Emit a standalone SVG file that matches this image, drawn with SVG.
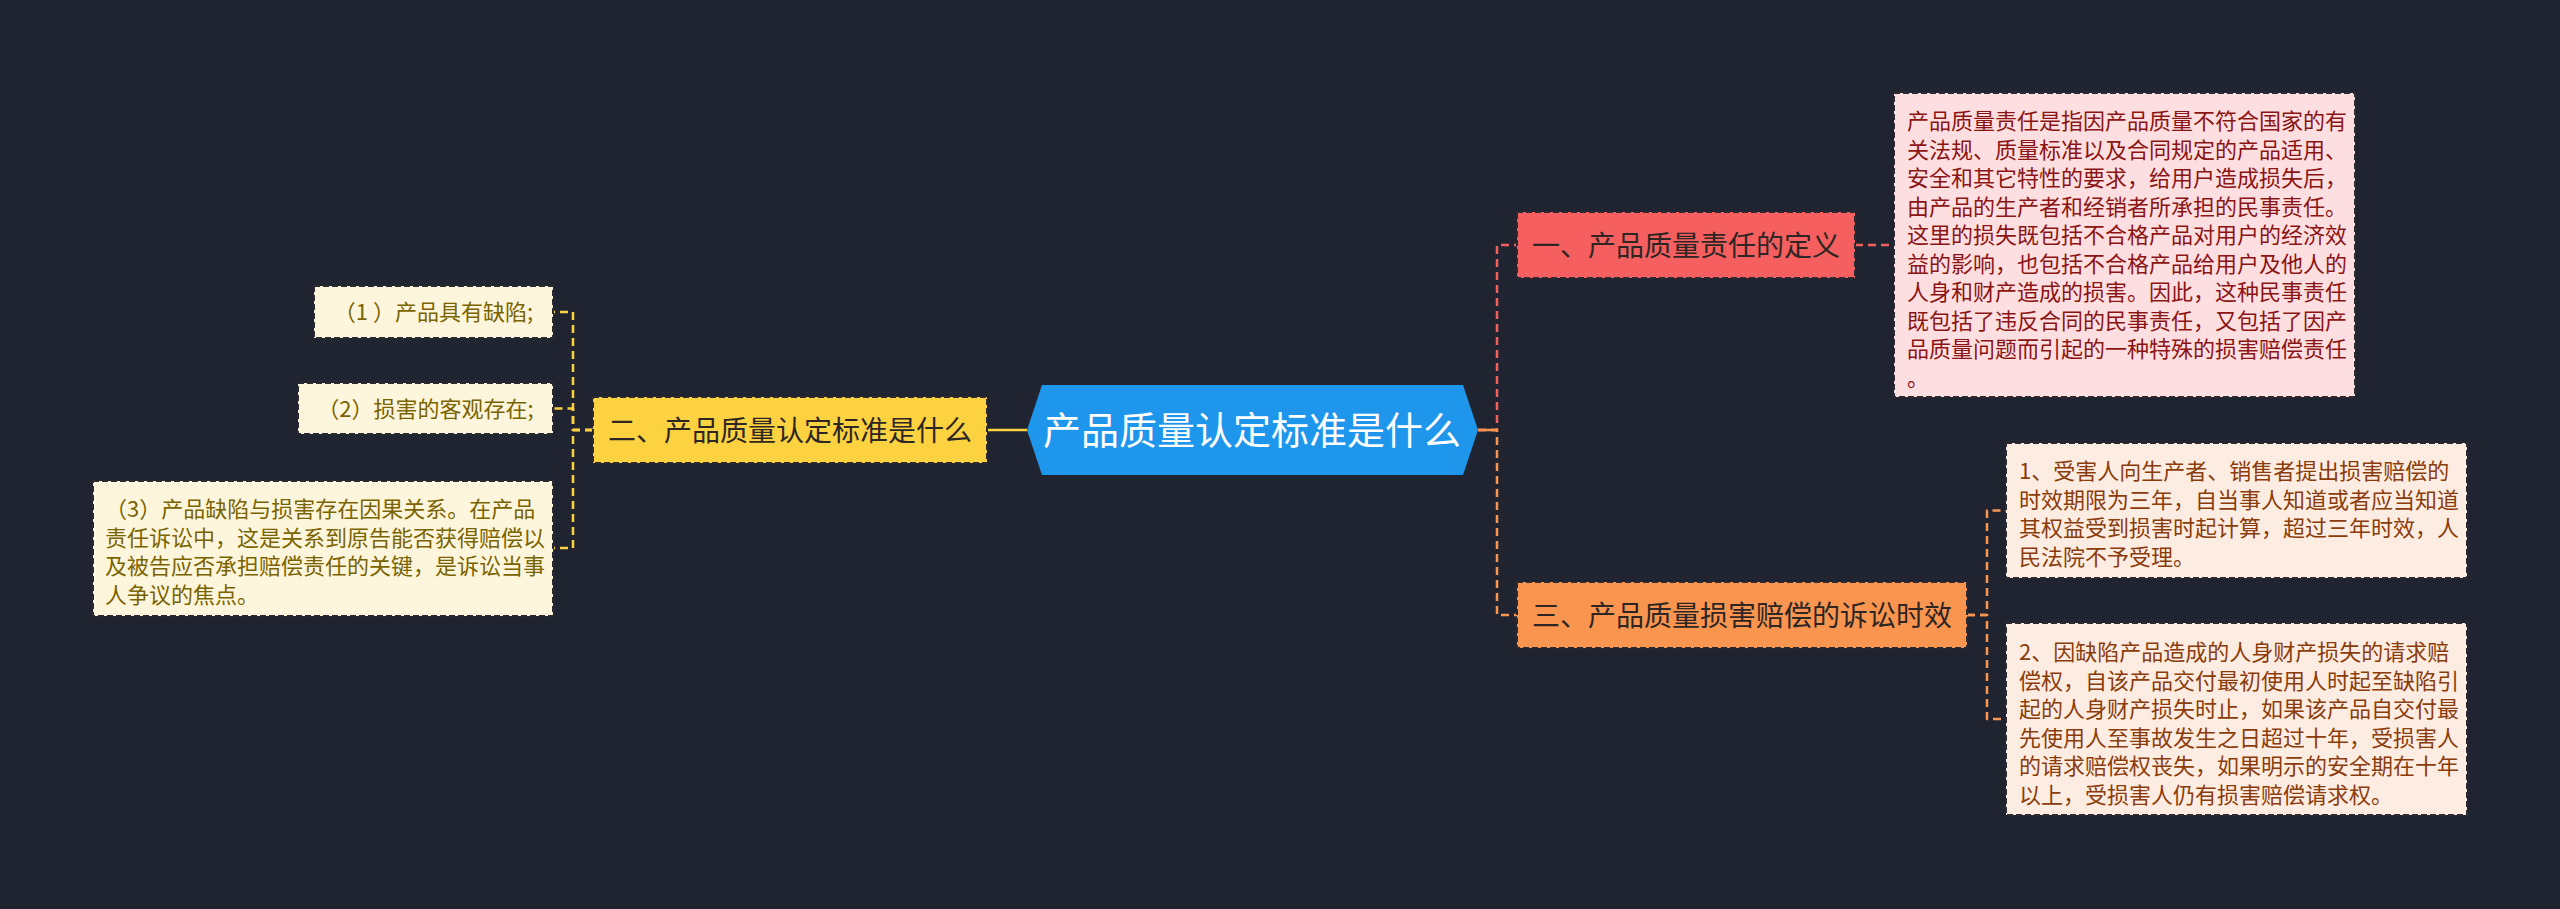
<svg xmlns="http://www.w3.org/2000/svg" width="2560" height="909" viewBox="0 0 2560 909">
<style>
text{font-family:"Noto Sans CJK SC","Noto Sans",sans-serif;}
.box{stroke:#2a2a30;stroke-width:2;stroke-dasharray:6 3;}
.conn{fill:none;stroke-width:2.5;stroke-dasharray:8 5;stroke-linejoin:round;}
.red{stroke:#f25f5c;}
.yel{stroke:#fdd240;}
.org{stroke:#fa9550;}
.branch{font-size:28px;fill:#2d2624;text-anchor:middle;}
.leaf{font-size:22px;}
.rt{fill:#8b1414;}
.yt{fill:#7a6400;}
.ot{fill:#8a3c0c;}
</style>
<rect x="0" y="0" width="2560" height="909" fill="#202430"/>
<g id="connectors">
<line x1="987" y1="430" x2="1027" y2="430" stroke="#fdd240" stroke-width="2.5"/>
<path class="conn yel" d="M593,430 H573 V312 H553"/>
<path class="conn yel" d="M593,430 H573 V408.5 H553"/>
<path class="conn yel" d="M593,430 H573 V548 H553"/>
<path class="conn red" d="M1478,430 H1497 V245 H1517"/>
<path class="conn org" d="M1478,430 H1497 V615 H1517"/>
<line x1="1478" y1="430" x2="1497" y2="430" stroke="#fa9550" stroke-width="2.5"/>
<path class="conn red" d="M1855,245 H1894"/>
<path class="conn org" d="M1967,615 H1987 V510.5 H2006"/>
<path class="conn org" d="M1967,615 H1987 V719 H2006"/>
</g>
<g id="root">
<polygon points="1027,430 1042,385 1463,385 1478,430 1463,475 1042,475" fill="#1e96eb"/>
<text x="1252" y="444" font-size="38" fill="#ffffff" text-anchor="middle">产品质量认定标准是什么</text>
</g>
<g id="branch1">
<rect class="box" x="1517" y="212" width="338" height="66" fill="#f55f5f"/>
<text class="branch" x="1686" y="255.5">一、产品质量责任的定义</text>
</g>
<g id="branch1-detail">
<rect class="box" x="1894" y="93" width="461" height="304" fill="#fddfe1"/>
<text class="leaf rt">
<tspan x="1907" y="129">产品质量责任是指因产品质量不符合国家的有</tspan>
<tspan x="1907" y="157.5">关法规、质量标准以及合同规定的产品适用、</tspan>
<tspan x="1907" y="186">安全和其它特性的要求，给用户造成损失后，</tspan>
<tspan x="1907" y="214.5">由产品的生产者和经销者所承担的民事责任。</tspan>
<tspan x="1907" y="243">这里的损失既包括不合格产品对用户的经济效</tspan>
<tspan x="1907" y="271.5">益的影响，也包括不合格产品给用户及他人的</tspan>
<tspan x="1907" y="300">人身和财产造成的损害。因此，这种民事责任</tspan>
<tspan x="1907" y="328.5">既包括了违反合同的民事责任，又包括了因产</tspan>
<tspan x="1907" y="357">品质量问题而引起的一种特殊的损害赔偿责任</tspan>
<tspan x="1907" y="385.5">。</tspan>
</text>
</g>
<g id="branch2">
<rect class="box" x="593" y="397" width="394" height="66" fill="#fdd240"/>
<text class="branch" x="790" y="440.5">二、产品质量认定标准是什么</text>
</g>
<g id="leaf2-1">
<rect class="box" x="314" y="286" width="239" height="52" fill="#fef6dc"/>
<text class="leaf yt" x="433.5" y="320" text-anchor="middle">（1 ）产品具有缺陷;</text>
</g>
<g id="leaf2-2">
<rect class="box" x="298" y="383" width="255" height="51" fill="#fef6dc"/>
<text class="leaf yt" x="425.5" y="417" text-anchor="middle">（2）损害的客观存在;</text>
</g>
<g id="leaf2-3">
<rect class="box" x="93" y="481" width="460" height="135" fill="#fef6dc"/>
<text class="leaf yt">
<tspan x="105" y="517">（3）产品缺陷与损害存在因果关系。在产品</tspan>
<tspan x="105" y="545.5">责任诉讼中，这是关系到原告能否获得赔偿以</tspan>
<tspan x="105" y="574">及被告应否承担赔偿责任的关键，是诉讼当事</tspan>
<tspan x="105" y="602.5">人争议的焦点。</tspan>
</text>
</g>
<g id="branch3">
<rect class="box" x="1517" y="582" width="450" height="66" fill="#fa9550"/>
<text class="branch" x="1742" y="625.5">三、产品质量损害赔偿的诉讼时效</text>
</g>
<g id="leaf3-1">
<rect class="box" x="2006" y="443" width="461" height="135" fill="#fdece1"/>
<text class="leaf ot">
<tspan x="2019" y="479">1、受害人向生产者、销售者提出损害赔偿的</tspan>
<tspan x="2019" y="507.5">时效期限为三年，自当事人知道或者应当知道</tspan>
<tspan x="2019" y="536">其权益受到损害时起计算，超过三年时效，人</tspan>
<tspan x="2019" y="564.5">民法院不予受理。</tspan>
</text>
</g>
<g id="leaf3-2">
<rect class="box" x="2006" y="623" width="461" height="192" fill="#fdece1"/>
<text class="leaf ot">
<tspan x="2019" y="660">2、因缺陷产品造成的人身财产损失的请求赔</tspan>
<tspan x="2019" y="688.5">偿权，自该产品交付最初使用人时起至缺陷引</tspan>
<tspan x="2019" y="717">起的人身财产损失时止，如果该产品自交付最</tspan>
<tspan x="2019" y="745.5">先使用人至事故发生之日超过十年，受损害人</tspan>
<tspan x="2019" y="774">的请求赔偿权丧失，如果明示的安全期在十年</tspan>
<tspan x="2019" y="802.5">以上，受损害人仍有损害赔偿请求权。</tspan>
</text>
</g>
</svg>
